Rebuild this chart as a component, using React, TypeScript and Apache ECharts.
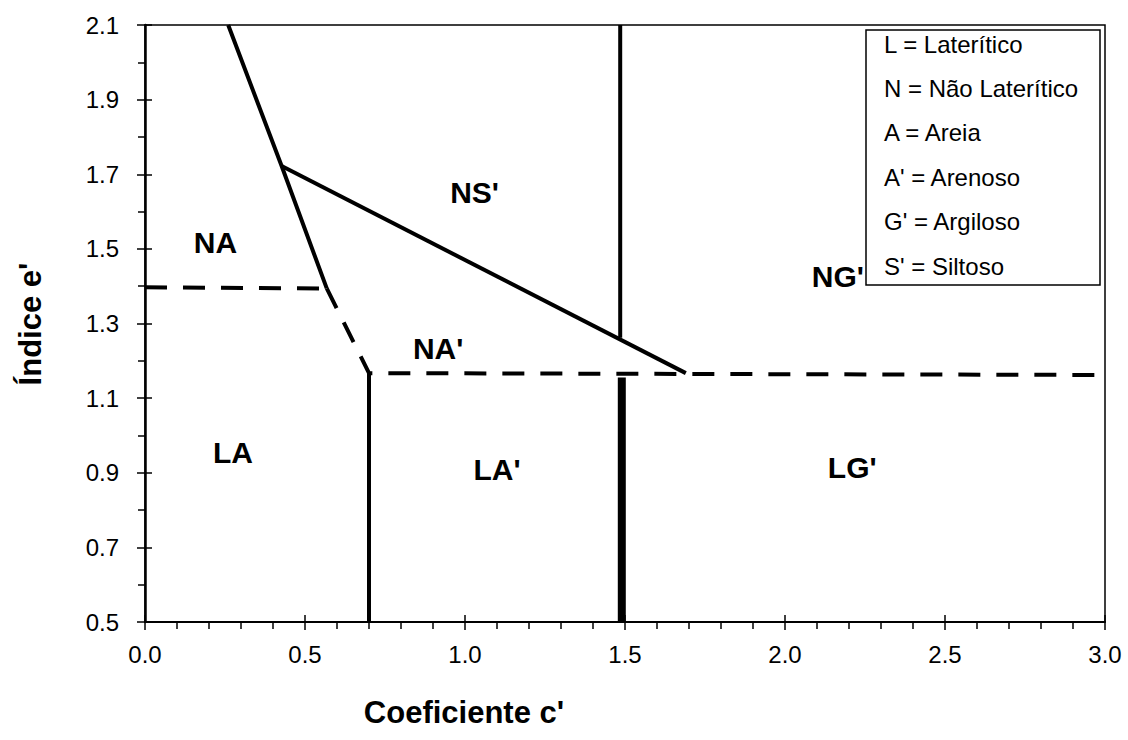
import React, { useEffect, useRef } from "react";
import * as echarts from "echarts";

// ---- data ----
const xTicks = [0, 0.5, 1.0, 1.5, 2.0, 2.5, 3.0];
const yTicks = [0.5, 0.7, 0.9, 1.1, 1.3, 1.5, 1.7, 1.9, 2.1];

// solid boundaries
const lineNA_upper: number[][] = [[0.26, 2.1], [0.427, 1.722], [0.568, 1.394]];
const lineNS_diag: number[][] = [[0.427, 1.722], [1.69, 1.167]];
const lineNS_vert: number[][] = [[1.485, 2.1], [1.485, 1.262]];
const lineLA_vert: number[][] = [[0.70, 0.5], [0.70, 1.167]];
const lineLG_vert: number[][] = [[1.49, 0.5], [1.49, 1.155]];
// dashed boundaries
const dashNA_horiz: number[][] = [[0.0, 1.397], [0.568, 1.394]];
const dashNA_lower: number[][] = [[0.568, 1.394], [0.70, 1.167], [3.0, 1.162]];

// region labels
const regionNames = ["NS'", "NA", "NG'", "NA'", "LA", "LA'", "LG'"];
const regionX = [1.03, 0.22, 2.165, 0.916, 0.275, 1.10, 2.21];
const regionY = [1.652, 1.516, 1.425, 1.232, 0.954, 0.908, 0.913];

const legendLines = [
  "L = Laterítico",
  "N = Não Laterítico",
  "A = Areia",
  "A' = Arenoso",
  "G' = Argiloso",
  "S' = Siltoso",
];

const xTitle = "Coeficiente c'";
const yTitle = "Índice e'";

const FONT = "'Liberation Sans', Arial, Helvetica, sans-serif";

export default function App() {
  const ref = useRef<HTMLDivElement>(null);

  useEffect(() => {
    document.body.style.margin = "0";
    if (!ref.current) return;
    const chart = echarts.init(ref.current, undefined, { renderer: "svg" });

    const solid = (data: number[][], width = 4) => ({
      type: "line",
      data,
      symbol: "none",
      silent: true,
      lineStyle: { color: "#000", width, type: "solid", cap: "butt" },
      z: 3,
    });
    const dashed = (data: number[][]) => ({
      type: "line",
      data,
      symbol: "none",
      silent: true,
      lineStyle: { color: "#000", width: 4, type: [22, 16], cap: "butt" },
      z: 3,
    });

    const xBase = {
      type: "value",
      min: 0,
      max: 3,
      interval: 0.5,
      gridIndex: 0,
      position: "bottom",
      splitLine: { show: false },
    };
    const yBase = {
      type: "value",
      min: 0.5,
      max: 2.1,
      interval: 0.2,
      gridIndex: 0,
      position: "left",
      splitLine: { show: false },
    };

    chart.setOption({
      animation: false,
      backgroundColor: "#fff",
      textStyle: { fontFamily: FONT },
      grid: {
        left: 145,
        right: 23,
        top: 25,
        bottom: 118,
        show: true,
        borderColor: "#000",
        borderWidth: 1.5,
        containLabel: false,
      },
      xAxis: [
        {
          ...xBase,
          axisLine: { show: true, lineStyle: { color: "#000", width: 2 } },
          axisTick: { show: true, inside: false, length: 8, lineStyle: { color: "#000", width: 1.5 } },
          minorTick: { show: true, splitNumber: 5, length: 7, lineStyle: { color: "#000", width: 1.5 } },
          axisLabel: {
            color: "#000",
            fontSize: 24,
            fontFamily: FONT,
            margin: 20,
            formatter: (v: number) => v.toFixed(1),
          },
        },
        {
          ...xBase,
          axisLine: { show: false },
          axisTick: { show: true, inside: true, length: 7, lineStyle: { color: "#000", width: 1.5 } },
          minorTick: { show: false },
          axisLabel: { show: false },
        },
      ],
      yAxis: [
        {
          ...yBase,
          axisLine: { show: true, lineStyle: { color: "#000", width: 2.5 } },
          axisTick: { show: true, inside: false, length: 8, lineStyle: { color: "#000", width: 1.5 } },
          minorTick: { show: true, splitNumber: 2, length: 7, lineStyle: { color: "#000", width: 1.5 } },
          axisLabel: {
            color: "#000",
            fontSize: 24,
            fontFamily: FONT,
            margin: 26,
            formatter: (v: number) => v.toFixed(1),
          },
        },
        {
          ...yBase,
          axisLine: { show: false },
          axisTick: { show: true, inside: true, length: 7, lineStyle: { color: "#000", width: 1.5 } },
          minorTick: { show: false },
          axisLabel: { show: false },
        },
      ],
      series: [
        solid(lineNA_upper),
        solid(lineNS_diag),
        solid(lineNS_vert),
        solid(lineLA_vert),
        solid(lineLG_vert, 8),
        dashed(dashNA_horiz),
        dashed(dashNA_lower),
        {
          type: "scatter",
          symbolSize: 0,
          silent: true,
          z: 4,
          itemStyle: { opacity: 1, color: "#000" },
          data: regionNames.map((n, i) => ({ name: n, value: [regionX[i], regionY[i]] })),
          label: {
            show: true,
            position: "inside",
            formatter: "{b}",
            color: "#000",
            opacity: 1,
            textBorderWidth: 0,
            fontSize: 30,
            fontWeight: "bold",
            fontFamily: FONT,
          },
        },
      ],
      graphic: [
        {
          type: "rect",
          shape: { x: 866, y: 30, width: 234, height: 255 },
          style: { fill: "#fff", stroke: "#000", lineWidth: 1.5 },
          z: 10,
        },
        ...legendLines.map((t, i) => ({
          type: "text",
          x: 884,
          y: 44 + i * 44.4,
          style: {
            text: t,
            fill: "#000",
            fontSize: 24,
            fontFamily: FONT,
            textAlign: "left",
            textVerticalAlign: "middle",
          },
          z: 11,
        })),
        {
          type: "text",
          x: 464,
          y: 712,
          style: {
            text: xTitle,
            fill: "#000",
            fontSize: 31,
            fontWeight: "bold",
            fontFamily: FONT,
            textAlign: "center",
            textVerticalAlign: "middle",
          },
        },
        {
          type: "text",
          x: 30,
          y: 324,
          rotation: Math.PI / 2,
          style: {
            text: yTitle,
            fill: "#000",
            fontSize: 31,
            fontWeight: "bold",
            fontFamily: FONT,
            textAlign: "center",
            textVerticalAlign: "middle",
          },
        },
      ],
    });

    return () => chart.dispose();
  }, []);

  return (
    <div
      ref={ref}
      style={{ position: "absolute", left: 0, top: 0, width: 1128, height: 740, background: "#fff" }}
    />
  );
}
